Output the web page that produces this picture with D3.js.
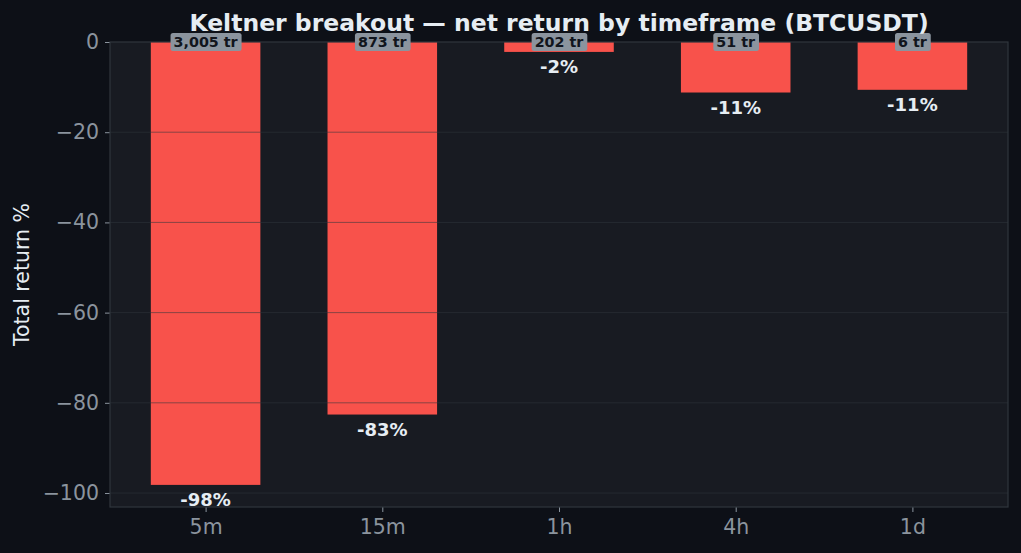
<!DOCTYPE html>
<html lang="en">
<meta charset="utf-8">
<title>Keltner breakout</title>
<script src="https://d3js.org/d3.v7.min.js"></script>
<style>
  html, body { margin: 0; padding: 0; background: #0d1017; }
  svg { display: block; font-family: "DejaVu Sans", sans-serif; }
</style>
<body>
<svg width="1021" height="553"></svg>
<script>
// data
var timeframes = ["5m", "15m", "1h", "4h", "1d"];
var returns = [-98.2, -82.6, -2.2, -11.2, -10.6];
var trades = [3005, 873, 202, 51, 6];
var yTicks = [0, -20, -40, -60, -80, -100];

var svg = d3.select("svg");
var margin = {top: 42, right: 13, bottom: 46, left: 110};
var width = 1021 - margin.left - margin.right;
var height = 553 - margin.top - margin.bottom;

svg.append("rect").attr("width", 1021).attr("height", 553).attr("fill", "#0d1017");

var g = svg.append("g").attr("transform", "translate(" + margin.left + "," + margin.top + ")");

var barW = 0.62;
var x = d3.scaleLinear().domain([-0.541, 4.541]).range([0, width]);
var y = d3.scaleLinear().domain([-103.1, 0]).range([height, 0]);

g.append("rect").attr("width", width).attr("height", height).attr("fill", "#181b22");

// bars
g.selectAll("rect.bar")
  .data(returns)
  .enter().append("rect")
    .attr("class", "bar")
    .attr("x", function(d, i) { return x(i - barW / 2); })
    .attr("width", x(barW) - x(0))
    .attr("y", y(0))
    .attr("height", function(d) { return y(d) - y(0); })
    .attr("fill", "#f8524b");

// grid over bars
g.selectAll("line.grid")
  .data(yTicks.slice(1))
  .enter().append("line")
    .attr("class", "grid")
    .attr("x1", 0).attr("x2", width)
    .attr("y1", function(d) { return y(d); })
    .attr("y2", function(d) { return y(d); })
    .attr("stroke", "#30363d")
    .attr("stroke-opacity", 0.55)
    .attr("stroke-width", 1);

// axes
var yAxis = g.append("g")
  .call(d3.axisLeft(y).tickValues(yTicks).tickSize(5).tickPadding(6)
    .tickFormat(function(d) { return d < 0 ? "\u2212" + Math.abs(d) : d; }));
var xAxis = g.append("g")
  .attr("transform", "translate(0," + height + ")")
  .call(d3.axisBottom(x).tickValues(d3.range(timeframes.length)).tickSize(5).tickPadding(7)
    .tickFormat(function(d) { return timeframes[d]; }));

[yAxis, xAxis].forEach(function(a) {
  a.select(".domain").remove();
  a.selectAll(".tick line").attr("stroke", "#8b949e");
  a.selectAll(".tick text").attr("fill", "#8b949e").style("font-size", "20.5px")
    .style("font-family", "DejaVu Sans, sans-serif");
});

// frame
g.append("rect").attr("width", width).attr("height", height)
  .attr("fill", "none").attr("stroke", "#30363d").attr("stroke-width", 1.2);

// value labels
g.selectAll("text.val")
  .data(returns)
  .enter().append("text")
    .attr("class", "val")
    .attr("x", function(d, i) { return x(i); })
    .attr("y", function(d) { return y(d) + 15; })
    .attr("dy", "0.35em")
    .attr("text-anchor", "middle")
    .attr("fill", "#e6edf3")
    .style("font-size", "18px")
    .style("font-weight", "bold")
    .text(function(d) { return Math.round(d) + "%"; });

// trade count badges
var badge = g.selectAll("g.badge")
  .data(trades)
  .enter().append("g")
    .attr("class", "badge")
    .attr("transform", function(d, i) { return "translate(" + x(i) + "," + y(0) + ")"; });

badge.append("text")
  .attr("text-anchor", "middle")
  .attr("dy", "0.35em")
  .attr("fill", "#11151c")
  .style("font-size", "14.3px")
  .style("font-weight", "bold")
  .text(function(d) { return d3.format(",")(d) + " tr"; });

badge.each(function() {
  var gg = d3.select(this);
  var bb = gg.select("text").node().getBBox();
  gg.insert("rect", "text")
    .attr("x", bb.x - 3).attr("y", -9)
    .attr("width", bb.width + 6).attr("height", 18)
    .attr("rx", 2.5)
    .attr("fill", "#8b949e");
});

// title and axis label
svg.append("text")
  .attr("x", margin.left + width / 2)
  .attr("y", 31)
  .attr("text-anchor", "middle")
  .attr("fill", "#e6edf3")
  .style("font-size", "23.5px")
  .style("font-weight", "bold")
  .text("Keltner breakout \u2014 net return by timeframe (BTCUSDT)");

svg.append("text")
  .attr("transform", "translate(29," + (margin.top + height / 2) + ") rotate(-90)")
  .attr("text-anchor", "middle")
  .attr("fill", "#e6edf3")
  .style("font-size", "20.5px")
  .text("Total return %");
</script>
</body>
</html>
